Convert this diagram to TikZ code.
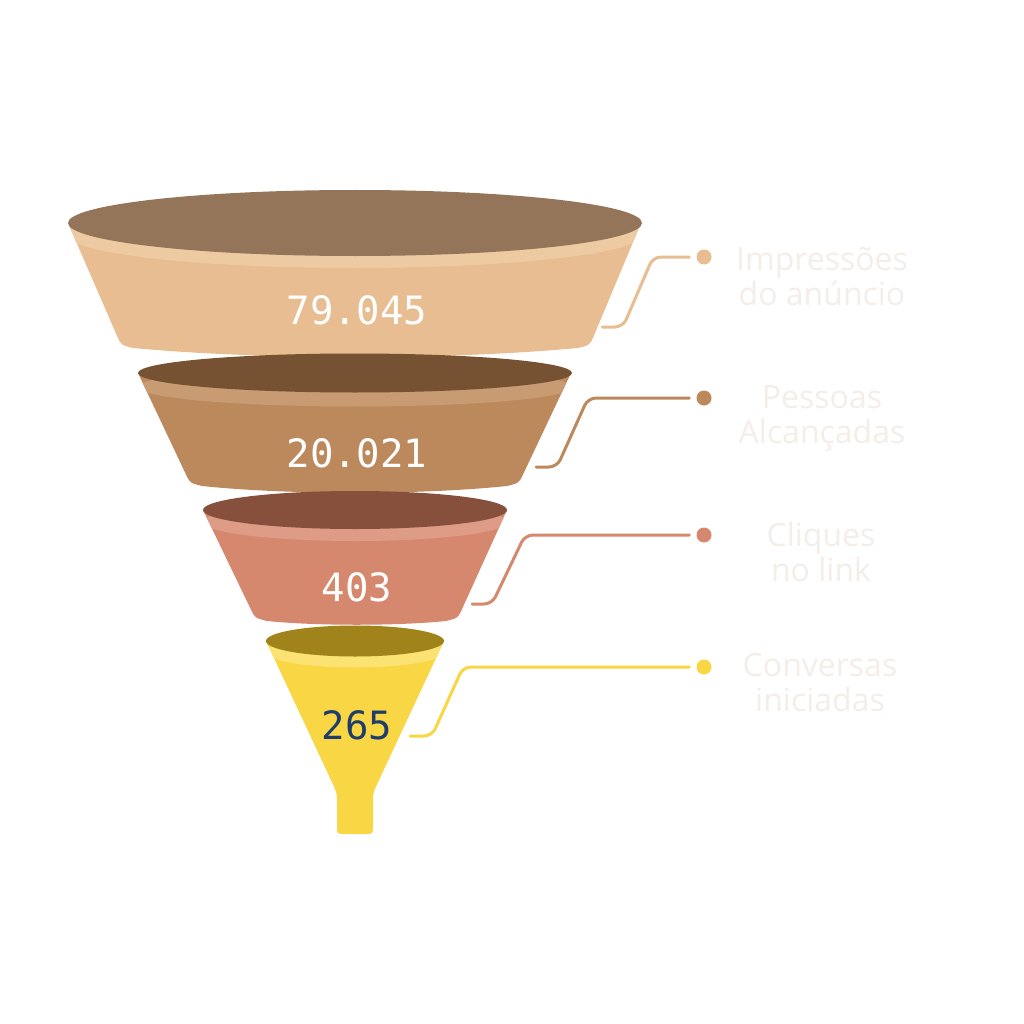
\documentclass[tikz,border=0pt]{standalone}
\usepackage{fontspec}
\usetikzlibrary{calc}
\newfontfamily\numfont{DejaVu Sans Mono}
\newfontfamily\labfont{Open Sans}
\definecolor{cAdark}{HTML}{94755A}
\definecolor{cAband}{HTML}{EDCAA2}
\definecolor{cAbody}{HTML}{E8BD91}
\definecolor{cBdark}{HTML}{765233}
\definecolor{cBband}{HTML}{C99B73}
\definecolor{cBbody}{HTML}{BC895D}
\definecolor{cCdark}{HTML}{87503C}
\definecolor{cCband}{HTML}{DE9C86}
\definecolor{cCbody}{HTML}{D5886E}
\definecolor{cDdark}{HTML}{A0831B}
\definecolor{cDband}{HTML}{FCE273}
\definecolor{cDbody}{HTML}{F9D644}
\definecolor{numblue}{HTML}{1E3D6A}
\definecolor{labwhite}{HTML}{F4EDE8}
% body path: #1 top-left, #2 bottom-left, #3 bottom-right, #4 top-right, #5 dip
\newcommand\bodypath[5]{(#1) -- ($(#1)!0.92!(#2)$) .. controls (#2) .. ($(#2)+(12,3)$) .. controls ($(#2)!0.3!(#3)+(0,#5)$) and ($(#2)!0.7!(#3)+(0,#5)$) .. ($(#3)+(-12,3)$) .. controls (#3) .. ($(#4)!0.92!(#3)$) -- (#4) -- cycle}
\tikzset{
  numtxt/.style={font=\numfont\fontsize{39}{41}\selectfont, text=white, inner sep=0pt},
  labtxt/.style={font=\labfont\fontsize{32}{35}\selectfont, text=labwhite, align=center, inner sep=0pt},
  conn/.style={line width=3pt, line cap=round, rounded corners=8pt},
  dotnode/.style={circle, minimum size=15pt, inner sep=0pt},
}
\begin{document}
\begin{tikzpicture}[x=1pt,y=-1pt]
\useasboundingbox (0,0) rectangle (1024,1024);

% ---------- section 1 ----------
\coordinate (TLa) at (68,223); \coordinate (BLa) at (121,345);
\coordinate (BRa) at (590,345); \coordinate (TRa) at (641,223);
\fill[cAbody] \bodypath{TLa}{BLa}{BRa}{TRa}{15};
\begin{scope}
\clip \bodypath{TLa}{BLa}{BRa}{TRa}{15};
\fill[cAband] (355,235) ellipse [x radius=287, y radius=33];
\end{scope}
\fill[cAdark] (355,223) ellipse [x radius=287, y radius=33];

% ---------- section 2 ----------
\coordinate (TLb) at (138,373); \coordinate (BLb) at (190,483);
\coordinate (BRb) at (519,483); \coordinate (TRb) at (571,373);
\fill[cBbody] \bodypath{TLb}{BLb}{BRb}{TRb}{12};
\begin{scope}
\clip \bodypath{TLb}{BLb}{BRb}{TRb}{12};
\fill[cBband] (355,387) ellipse [x radius=217, y radius=19.5];
\end{scope}
\fill[cBdark] (355,373) ellipse [x radius=217, y radius=19.5];

% ---------- section 3 ----------
\coordinate (TLc) at (203,510); \coordinate (BLc) at (255,618);
\coordinate (BRc) at (458,618); \coordinate (TRc) at (507,510);
\fill[cCbody] \bodypath{TLc}{BLc}{BRc}{TRc}{8};
\begin{scope}
\clip \bodypath{TLc}{BLc}{BRc}{TRc}{8};
\fill[cCband] (355,522) ellipse [x radius=152, y radius=19];
\end{scope}
\fill[cCdark] (355,510) ellipse [x radius=152, y radius=19];

% ---------- section 4 (funnel spout) ----------
\coordinate (TLd) at (266,641); \coordinate (BLd) at (337,793);
\coordinate (BRd) at (373,793); \coordinate (TRd) at (444,641);
\newcommand\spoutpath{(TLd) -- ($(TLd)!0.93!(BLd)$) .. controls (BLd) .. (337,803) -- (337,826) .. controls (337,834) .. (345,834) -- (365,834) .. controls (373,834) .. (373,826) -- (373,803) .. controls (BRd) .. ($(TRd)!0.93!(BRd)$) -- (TRd) -- cycle}
\fill[cDbody] \spoutpath;
\begin{scope}
\clip \spoutpath;
\fill[cDband] (355,652) ellipse [x radius=89, y radius=15.5];
\end{scope}
\fill[cDdark] (355,641) ellipse [x radius=89, y radius=15.5];

% ---------- numbers ----------
\node[numtxt] (n1) at (357,310) {79.045};
\node[numtxt] (n2) at (357,453) {20.021};
\node[numtxt] (n3) at (357,587) {403};
\node[numtxt, text=numblue] (n4) at (357,725) {265};

% ---------- connectors ----------
\node[dotnode, fill=cAbody] (d1) at (704,257) {};
\node[dotnode, fill=cBbody] (d2) at (704,398) {};
\node[dotnode, fill=cCbody] (d3) at (704,535) {};
\node[dotnode, fill=cDbody] (d4) at (704,667) {};
\coordinate (e1) at (602,327);
\coordinate (e2) at (536,467);
\coordinate (e3) at (472,604);
\coordinate (e4) at (410,736);
\draw[conn, cAbody] ([xshift=-7pt]d1.west) -- (653,257) -- (623,327) -- (e1);
\draw[conn, cBbody] ([xshift=-7pt]d2.west) -- (588,398) -- (557,467) -- (e2);
\draw[conn, cCbody] ([xshift=-7pt]d3.west) -- (525,535) -- (492,604) -- (e3);
\draw[conn, cDbody] ([xshift=-7pt]d4.west) -- (463,667) -- (432,736) -- (e4);

% ---------- labels ----------
\node[labtxt] (t1) at (822,276) {Impressões\\do anúncio};
\node[labtxt] (t2) at (822,418) {Pessoas\\Alcançadas};
\node[labtxt] (t3) at (821,552) {Cliques\\no link};
\node[labtxt] (t4) at (820,683) {Conversas\\iniciadas};
\end{tikzpicture}
\end{document}
